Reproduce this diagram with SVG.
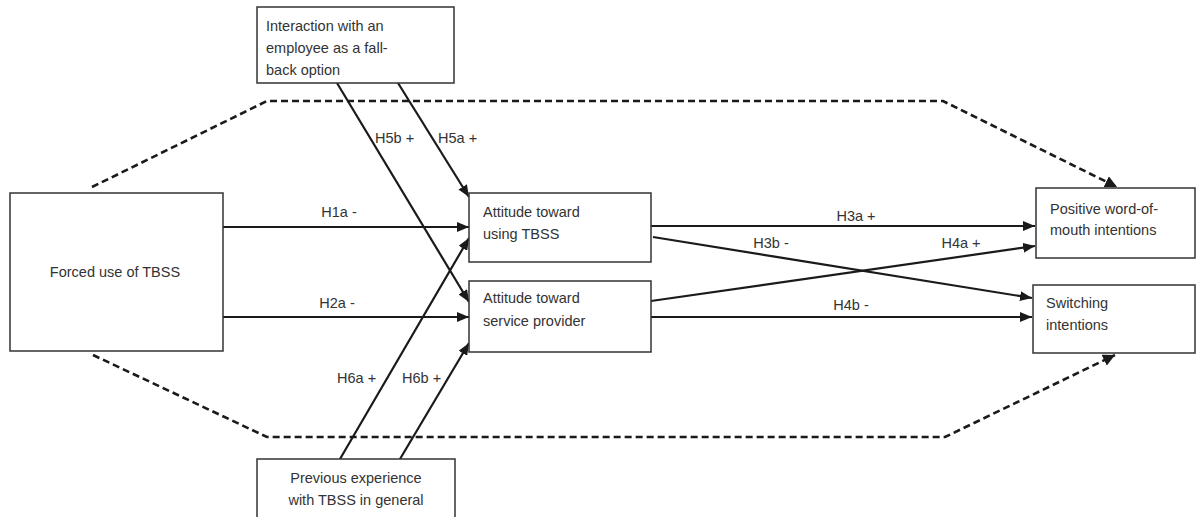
<svg xmlns="http://www.w3.org/2000/svg" width="1198" height="517" viewBox="0 0 1198 517">
<style>
.box{fill:#fff;stroke:#333;stroke-width:1.5}
.t{font-family:"Liberation Sans",Arial,sans-serif;font-size:14.5px;fill:#333}
.c{text-anchor:middle}
.ln{fill:none;stroke:#1a1a1a;stroke-width:2.2;marker-end:url(#ah)}
.ds{fill:none;stroke:#1a1a1a;stroke-width:2.6;stroke-dasharray:7 4}
</style>
<defs>
<marker id="ah" markerUnits="userSpaceOnUse" markerWidth="14" markerHeight="10" refX="12" refY="5" orient="auto">
<path d="M0,0 L12,5 L0,10 z" fill="#1a1a1a"/>
</marker>
<marker id="ahd" markerUnits="userSpaceOnUse" markerWidth="14" markerHeight="12" refX="12" refY="6" orient="auto">
<path d="M0,0 L12,6 L0,12 z" fill="#1a1a1a"/>
</marker>
</defs>
<g id="connectors">
<polyline class="ds" points="92,187 267,101 943,101 1117,187" marker-end="url(#ahd)"/>
<polyline class="ds" points="93,355 267,437 945,437 1115,355" marker-end="url(#ahd)"/>
<line class="ln" x1="223" y1="227" x2="469" y2="227"/>
<line class="ln" x1="223" y1="317" x2="469" y2="317"/>
<line class="ln" x1="337" y1="83" x2="469" y2="302"/>
<line class="ln" x1="398" y1="83" x2="469" y2="197"/>
<line class="ln" x1="340" y1="459" x2="469" y2="238"/>
<line class="ln" x1="400" y1="459" x2="469" y2="343"/>
<line class="ln" x1="651" y1="226" x2="1035" y2="226"/>
<line class="ln" x1="653" y1="237" x2="1032" y2="298"/>
<line class="ln" x1="651" y1="301" x2="1035" y2="246"/>
<line class="ln" x1="651" y1="317" x2="1032" y2="317"/>
<text class="t c" x="339" y="217">H1a -</text>
<text class="t c" x="337" y="308">H2a -</text>
<text class="t" x="375" y="143">H5b +</text>
<text class="t" x="438" y="143">H5a +</text>
<text class="t" x="337" y="383">H6a +</text>
<text class="t" x="402" y="383">H6b +</text>
<text class="t c" x="856" y="221">H3a +</text>
<text class="t c" x="771" y="248">H3b -</text>
<text class="t c" x="961" y="248">H4a +</text>
<text class="t c" x="851" y="310">H4b -</text>
</g>
<g id="n-interaction">
<rect class="box" x="257" y="7" width="197" height="76"/>
<text class="t" x="266" y="31">Interaction with an</text>
<text class="t" x="266" y="53">employee as a fall-</text>
<text class="t" x="266" y="75">back option</text>
</g>
<g id="n-forced">
<rect class="box" x="10" y="193" width="213" height="158"/>
<text class="t c" x="115" y="277">Forced use of TBSS</text>
</g>
<g id="n-att-tbss">
<rect class="box" x="469" y="193" width="182" height="69"/>
<text class="t" x="483" y="217">Attitude toward</text>
<text class="t" x="483" y="239">using TBSS</text>
</g>
<g id="n-att-sp">
<rect class="box" x="469" y="281" width="182" height="71"/>
<text class="t" x="483" y="303">Attitude toward</text>
<text class="t" x="483" y="326">service provider</text>
</g>
<g id="n-wom">
<rect class="box" x="1036" y="188" width="159" height="70"/>
<text class="t" x="1050" y="214">Positive word-of-</text>
<text class="t" x="1050" y="235">mouth intentions</text>
</g>
<g id="n-switch">
<rect class="box" x="1033" y="285" width="162" height="68"/>
<text class="t" x="1046" y="308">Switching</text>
<text class="t" x="1046" y="330">intentions</text>
</g>
<g id="n-prev">
<rect class="box" x="257" y="459" width="198" height="70"/>
<text class="t c" x="356" y="483">Previous experience</text>
<text class="t c" x="356" y="505">with TBSS in general</text>
</g>
</svg>
